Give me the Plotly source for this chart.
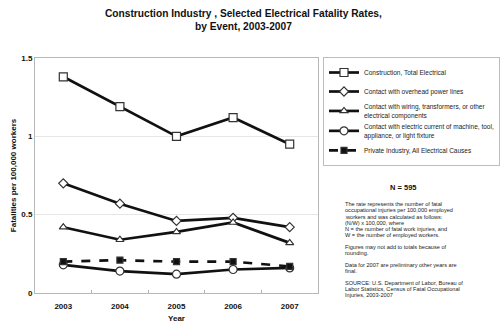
import plotly.graph_objects as go

years = ["2003", "2004", "2005", "2006", "2007"]

series_names = [
    "Construction, Total Electrical",
    "Contact with overhead power lines",
    "Contact with wiring, transformers, or other<br>electrical components",
    "Contact with electric current of machine, tool,<br>appliance, or light fixture",
    "Private Industry, All Electrical Causes",
]
total_electrical = [1.38, 1.19, 1.00, 1.12, 0.95]
overhead_lines = [0.70, 0.57, 0.46, 0.48, 0.42]
wiring = [0.42, 0.34, 0.39, 0.45, 0.32]
machine_current = [0.18, 0.14, 0.12, 0.15, 0.16]
private_industry = [0.20, 0.21, 0.20, 0.20, 0.17]

title_lines = [
    "Construction Industry , Selected Electrical Fatality Rates,",
    "by Event, 2003-2007",
]

notes = [
    "The rate represents the number of fatal",
    "occupational injuries per 100,000 employed",
    "workers and was calculated as follows:",
    "(N/W) x 100,000, where",
    "N = the number of fatal work injuries, and",
    "W = the number of employed workers.",
    "",
    "Figures may not add to totals because of",
    "rounding.",
    "",
    "Data for 2007 are preliminary other years are",
    "final.",
    "",
    "SOURCE: U.S. Department of Labor, Bureau of",
    "Labor Statistics, Census of Fatal Occupational",
    "Injuries, 2003-2007",
]

FONT = "Liberation Sans, Arial, sans-serif"
INK = "#111111"
W, H = 500, 329
PL, PR, PT, PB = 35, 318, 58, 293  # plot area edges in pixels


def px_x(x):
    return (x - PL) / (PR - PL)


def px_y(y):
    return 1 - (y - PT) / (PB - PT)


styles = [
    dict(symbol="square", size=8, fill="white", dash="solid"),
    dict(symbol="diamond", size=7, fill="white", dash="solid"),
    dict(symbol="triangle-up", size=7, fill="white", dash="solid"),
    dict(symbol="circle", size=8, fill="white", dash="solid"),
    dict(symbol="square", size=6, fill=INK, dash="dash"),
]
values = [total_electrical, overhead_lines, wiring, machine_current, private_industry]

fig = go.Figure()
for i, (name, vals, st) in enumerate(zip(series_names, values, styles)):
    fig.add_trace(go.Scatter(
        x=years, y=vals, name=name, mode="lines+markers",
        legendgroup=f"g{i}",
        line=dict(color=INK, width=2.7, dash=st["dash"]),
        marker=dict(symbol=st["symbol"], size=st["size"], color=st["fill"],
                    line=dict(color="#333333", width=1.2)),
    ))

# Two-line bold title
for text, ty in zip(title_lines, [13.3, 26.7]):
    fig.add_annotation(
        text=f"<b>{text}</b>", xref="paper", yref="paper",
        x=px_x(243), y=px_y(ty), xanchor="center", yanchor="middle",
        showarrow=False, font=dict(family=FONT, size=10.2, color="#111111"),
    )

# Footnote lines, one annotation per line for tight leading
y = 204.3
for line in notes:
    if line:
        fig.add_annotation(
            text=line, xref="paper", yref="paper",
            x=px_x(342.5), y=px_y(y),
            xanchor="left", yanchor="middle", showarrow=False,
            font=dict(family=FONT, size=5.6, color="#222222"),
        )
        y += 6.1
    else:
        y += 5.9

fig.add_annotation(
    text="<b>N = 595</b>", xref="paper", yref="paper",
    x=px_x(403), y=px_y(187.3),
    xanchor="center", yanchor="middle", showarrow=False,
    font=dict(family=FONT, size=7.5, color="#111111"),
)

fig.update_layout(
    width=W, height=H,
    margin=dict(l=PL, r=W - PR, t=PT, b=H - PB),
    paper_bgcolor="white", plot_bgcolor="white",
    showlegend=True,
    legend=dict(
        xref="container", yref="container",
        x=323 / W, y=1 - 57 / H, xanchor="left", yanchor="top",
        bordercolor="#bdbdbd", borderwidth=1, bgcolor="white",
        font=dict(family=FONT, size=6.5, color="#222222"),
        traceorder="grouped", tracegroupgap=0,
        itemwidth=30,
    ),
    xaxis=dict(
        type="category", range=[-0.5, 4.5], automargin=False,
        tickson="boundaries", ticks="inside", ticklen=3, tickcolor="#b0b0b0",
        showline=True, mirror=True, linecolor="#b8b8b8", linewidth=1,
        showgrid=False, zeroline=False, ticklabelstandoff=5,
        tickfont=dict(family=FONT, size=8, color="#111111", weight="bold"),
        title=dict(text="<b>Year</b>", font=dict(family=FONT, size=8, color="#111111"), standoff=5),
    ),
    yaxis=dict(
        range=[0, 1.5], tickvals=[0, 0.5, 1, 1.5], ticktext=["0", "0.5", "1", "1.5"],
        automargin=False,
        showline=True, mirror=True, linecolor="#b8b8b8", linewidth=1,
        showgrid=True, gridcolor="#e6e6e6", zeroline=False, ticks="",
        tickfont=dict(family=FONT, size=8, color="#111111", weight="bold"),
        title=dict(text="<b>Fatalities per 100,000 workers</b>",
                   font=dict(family=FONT, size=8, color="#111111"), standoff=3),
    ),
)

fig.write_html("out.html")
